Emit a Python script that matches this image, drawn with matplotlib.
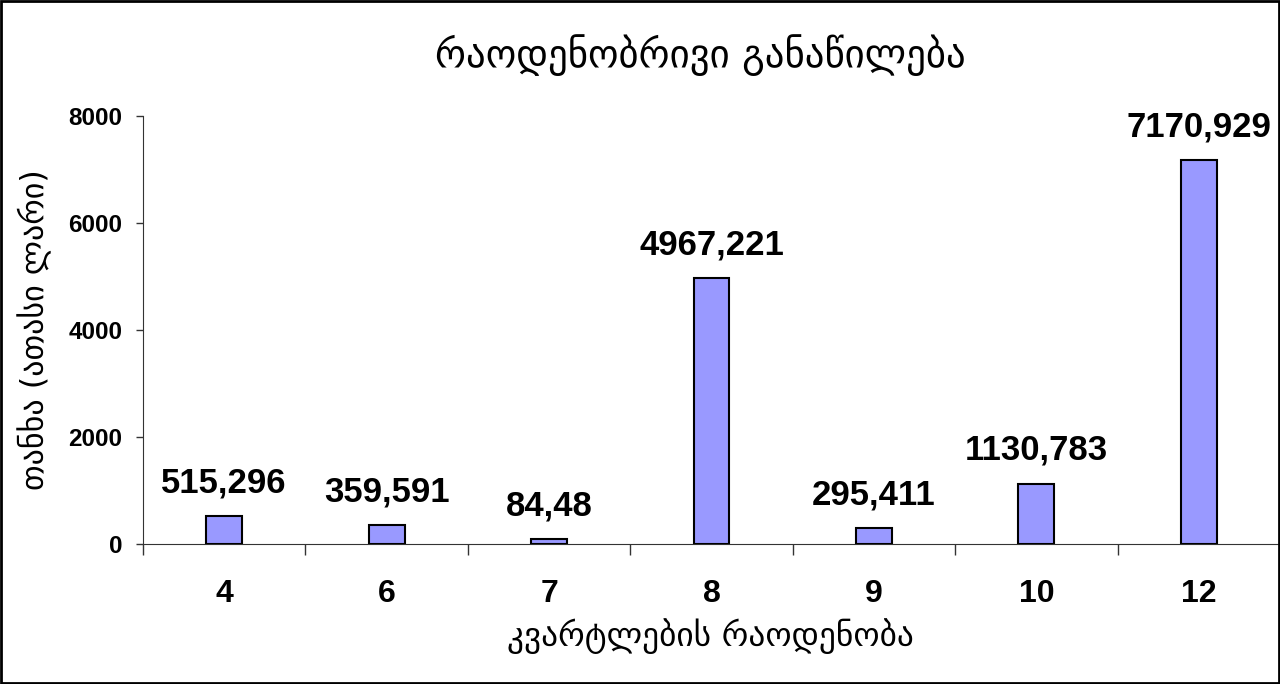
import numpy as np
import matplotlib.pyplot as plt
from matplotlib.patches import Rectangle

# data
categories = ["4", "6", "7", "8", "9", "10", "12"]
values = [515.296, 359.591, 84.48, 4967.221, 295.411, 1130.783, 7170.929]
value_labels = ["515,296", "359,591", "84,48", "4967,221", "295,411", "1130,783", "7170,929"]
y_ticks = [0, 2000, 4000, 6000, 8000]

title = "რაოდენობრივი განაწილება"
x_title = "კვარტლების რაოდენობა"
y_title = "თანხა (ათასი ლარი)"

num_font = ["Liberation Sans", "DejaVu Sans"]
geo_font = ["DejaVu Sans"]

fig = plt.figure(figsize=(12.8, 6.84), dpi=100)
ax = fig.add_axes([143 / 1280, 1 - 544 / 684, 1 - 143 / 1280, (544 - 116) / 684])

x = np.arange(len(categories))
ax.bar(x, values, width=0.22, color="#9999FF", edgecolor="black", linewidth=1.5, zorder=3)

for xi, v, lab in zip(x, values, value_labels):
    ax.annotate(lab, (xi, v), xytext=(0, 12), textcoords="offset points",
                ha="center", va="bottom", fontsize=25, fontweight="bold", family=num_font)

ax.set_xlim(-0.5, len(categories) - 0.5)
ax.set_ylim(0, 8000)
ax.set_yticks(y_ticks)
ax.set_yticklabels([str(t) for t in y_ticks], fontsize=17.5, fontweight="bold", family=num_font)
ax.set_xticks(x)
ax.set_xticklabels(categories, fontsize=23, fontweight="bold", family=num_font)
ax.set_xticks(np.arange(len(categories) + 1) - 0.5, minor=True)
ax.tick_params(axis="x", which="major", length=0, pad=25)
ax.tick_params(axis="x", which="minor", length=8, width=1, color="#333333")
ax.tick_params(axis="y", length=5, width=1, color="#333333", pad=10)

for s in ["top", "right"]:
    ax.spines[s].set_visible(False)
ax.spines["left"].set_color("#333333")
ax.spines["bottom"].set_color("#333333")

fig.text(700 / 1280, 1 - 55 / 684, title, ha="center", va="center", fontsize=28, family=geo_font)
fig.text(710 / 1280, 1 - 636 / 684, x_title, ha="center", va="center", fontsize=24, family=geo_font)
fig.text(35 / 1280, 1 - 330 / 684, y_title, ha="center", va="center", fontsize=23,
         rotation=90, family=geo_font)

fig.patches.append(Rectangle((0.001, 0.002), 0.998, 0.996, transform=fig.transFigure,
                             fill=False, edgecolor="black", linewidth=2))

fig.savefig("out.png", dpi=100)
